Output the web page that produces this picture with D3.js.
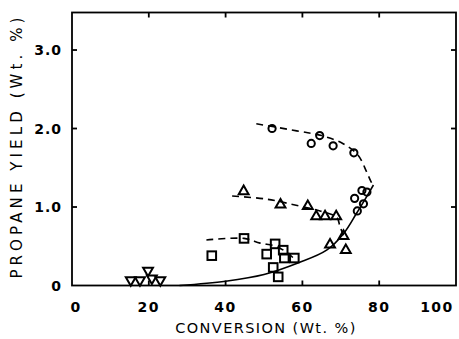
<!DOCTYPE html>
<html>
<head>
<meta charset="utf-8">
<script src="https://cdn.jsdelivr.net/npm/d3@7/dist/d3.min.js"></script>
<style>
  html, body { margin: 0; padding: 0; background: #fff; }
  svg { display: block; }
  text { font-family: "DejaVu Sans", Arial, sans-serif; fill: #000; }
</style>
</head>
<body>
<svg id="chart" width="459" height="339"></svg>
<script>
// Propane yield vs. conversion, four catalyst series with fitted curves
const xTicks = [0, 20, 40, 60, 80, 100];
const yTicks = [0, 1, 2, 3];
const yTickLabels = ["0", "1.0", "2.0", "3.0"];

// circles
const circleX = [52.1, 64.5, 62.3, 68.0, 73.4, 73.6, 75.5, 76.8, 75.9, 74.3];
const circleY = [2.00, 1.91, 1.81, 1.78, 1.69, 1.11, 1.21, 1.19, 1.04, 0.95];
// triangles (apex up)
const triUpX = [44.7, 54.3, 61.4, 63.6, 65.9, 68.8, 67.2, 70.7, 71.3];
const triUpY = [1.20, 1.03, 1.01, 0.88, 0.88, 0.88, 0.52, 0.63, 0.45];
// squares
const squareX = [36.4, 44.8, 52.9, 50.7, 55.0, 55.3, 57.9, 52.4, 53.7];
const squareY = [0.38, 0.60, 0.53, 0.40, 0.45, 0.35, 0.35, 0.23, 0.11];
// triangles (apex down)
const triDownX = [15.3, 17.7, 19.8, 20.8, 23.0];
const triDownY = [0.07, 0.07, 0.19, 0.09, 0.07];

// fitted curves
const solidX = [28, 40, 50, 59, 66.3, 70.7, 74.1, 76.7, 78.5];
const solidY = [0.00, 0.055, 0.14, 0.29, 0.45, 0.66, 0.92, 1.13, 1.28];
const circleFitX = [48, 58.5, 65, 70.5, 74.5, 76.7, 77.8, 78.5];
const circleFitY = [2.06, 1.97, 1.91, 1.81, 1.66, 1.45, 1.33, 1.27];
const triFitX = [41.7, 50.7, 59.4, 64.6, 68.9, 69.8, 70.7];
const triFitY = [1.14, 1.10, 1.01, 0.95, 0.87, 0.75, 0.64];
const squareFitX = [35, 44.8, 49, 53, 56, 58.5];
const squareFitY = [0.58, 0.60, 0.54, 0.50, 0.42, 0.31];

const svg = d3.select("#chart");
const plotL = 72, plotR = 456, plotT = 12.5, plotB = 285.5;

const x = d3.scaleLinear().domain([0, 100]).range([plotL, plotR]);
const y = d3.scaleLinear().domain([0, 3.478]).range([plotB, plotT]);

const zip = (a, b) => a.map((v, i) => [v, b[i]]);

// frame
svg.append("rect")
  .attr("x", plotL).attr("y", plotT)
  .attr("width", plotR - plotL).attr("height", plotB - plotT)
  .attr("fill", "none").attr("stroke", "#000").attr("stroke-width", 1.8);

// inward ticks on all four sides
const tl = 5;
const inner = xTicks.slice(1, -1);
const g = svg.append("g").attr("stroke", "#000").attr("stroke-width", 1.8);
inner.forEach(t => {
  g.append("line").attr("x1", x(t)).attr("x2", x(t)).attr("y1", plotB).attr("y2", plotB - tl);
  g.append("line").attr("x1", x(t)).attr("x2", x(t)).attr("y1", plotT).attr("y2", plotT + tl);
});
yTicks.slice(1).forEach(t => {
  g.append("line").attr("x1", plotL).attr("x2", plotL + tl).attr("y1", y(t)).attr("y2", y(t));
  g.append("line").attr("x1", plotR).attr("x2", plotR - tl).attr("y1", y(t)).attr("y2", y(t));
});

// tick labels (end labels nudged inside the frame width)
const xLabelPos = d => d === 0 ? x(d) + 4 : d === 100 ? x(d) - 19 : x(d);
svg.append("g").selectAll("text").data(xTicks).join("text")
  .attr("x", xLabelPos).attr("y", 312)
  .attr("text-anchor", "middle")
  .attr("font-size", 14).attr("font-weight", "bold").attr("letter-spacing", 1.5)
  .text(d => d);

svg.append("g").selectAll("text").data(yTicks).join("text")
  .attr("x", 62).attr("y", d => y(d) + 5)
  .attr("text-anchor", "end")
  .attr("font-size", 14).attr("font-weight", "bold").attr("letter-spacing", 1)
  .text((d, i) => yTickLabels[i]);

// axis titles
svg.append("text")
  .attr("x", 266).attr("y", 333)
  .attr("text-anchor", "middle")
  .attr("font-size", 14.5).attr("letter-spacing", 1.4)
  .text("CONVERSION (Wt. %)");

svg.append("text")
  .attr("transform", "translate(22,146) rotate(-90)")
  .attr("text-anchor", "middle")
  .attr("font-size", 15).attr("letter-spacing", 4.1)
  .text("PROPANE YIELD (Wt. %)");

// curves
const line = d3.line().x(d => x(d[0])).y(d => y(d[1])).curve(d3.curveCatmullRom.alpha(0.5));
const curves = svg.append("g").attr("fill", "none").attr("stroke", "#000").attr("stroke-width", 1.6);
curves.append("path").attr("d", line(zip(solidX, solidY)));
[[circleFitX, circleFitY], [triFitX, triFitY], [squareFitX, squareFitY]].forEach(([cx, cy]) => {
  curves.append("path").attr("d", line(zip(cx, cy))).attr("stroke-dasharray", "7,5");
});

// markers
const m = svg.append("g").attr("fill", "none").attr("stroke", "#000").attr("stroke-width", 2);
m.selectAll("circle").data(zip(circleX, circleY)).join("circle")
  .attr("cx", d => x(d[0])).attr("cy", d => y(d[1])).attr("r", 3.6);
m.selectAll("rect").data(zip(squareX, squareY)).join("rect")
  .attr("x", d => x(d[0]) - 4.3).attr("y", d => y(d[1]) - 4.3)
  .attr("width", 8.6).attr("height", 8.6);
const tri = d3.symbol().type(d3.symbolTriangle).size(42);
m.selectAll("path.up").data(zip(triUpX, triUpY)).join("path").attr("class", "up")
  .attr("d", tri).attr("transform", d => `translate(${x(d[0])},${y(d[1])})`);
m.selectAll("path.down").data(zip(triDownX, triDownY)).join("path").attr("class", "down")
  .attr("d", tri).attr("transform", d => `translate(${x(d[0])},${y(d[1])}) rotate(180)`);
</script>
</body>
</html>
